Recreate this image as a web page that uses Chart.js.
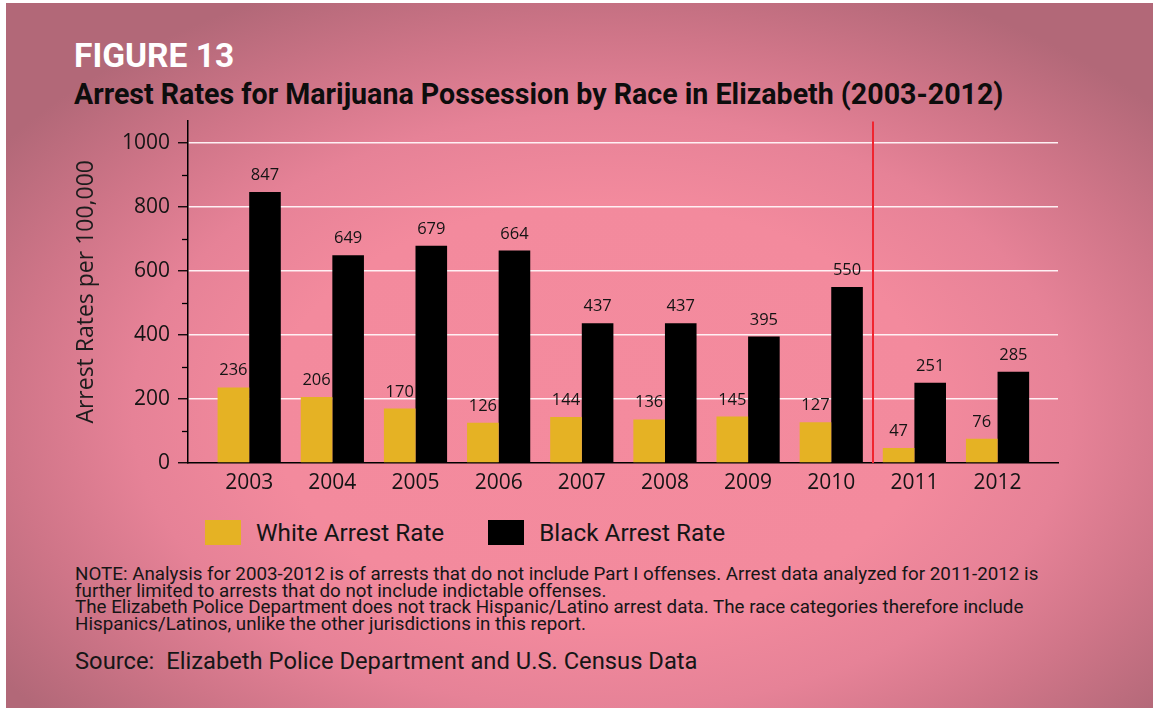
<!DOCTYPE html>
<html>
<head>
<meta charset="utf-8">
<script src="https://cdn.jsdelivr.net/npm/chart.js@4.4.1/dist/chart.umd.min.js"></script>
<style>
  html, body { margin: 0; padding: 0; width: 1153px; height: 708px; overflow: hidden; background: #ffffff; }
  #panel {
    position: absolute; left: 6px; top: 3px; width: 1147px; height: 705px;
    background: radial-gradient(ellipse 64% 66% at 52% 58%, #f48b9e 0%, #f38a9d 45%, #e68297 64%, #cf7588 81%, #b26878 100%);
  }
  .txt { position: absolute; white-space: nowrap; font-family: Roboto, "DejaVu Sans", sans-serif; }
  #fig { left: 74px; top: 39px; font-size: 33.5px; line-height: 33.5px; font-weight: 700; color: #ffffff; }
  #title { left: 74px; top: 80px; font-size: 28.6px; line-height: 28.6px; font-weight: 700; color: #0d0d0d; }
  #chartBox { position: absolute; left: 60px; top: 100px; width: 1010px; height: 403px; }
  #legend { position: absolute; left: 205px; top: 520px; height: 25px; display: flex; align-items: center; }
  .item { display: flex; align-items: center; margin-right: 44px; }
  .swatch { width: 36px; height: 25px; margin-right: 15px; }
  .item span { font-family: Roboto, sans-serif; font-size: 24.3px; color: #151515; }
  #note { left: 75px; top: 566px; font-size: 18.8px; line-height: 16.7px; color: #161616; white-space: pre; }
  #source { left: 75px; top: 650px; font-size: 23.75px; line-height: 23.75px; color: #161616; }
</style>
</head>
<body>
<div id="panel"></div>
<div class="txt" id="fig">FIGURE 13</div>
<div class="txt" id="title">Arrest Rates for Marijuana Possession by Race in Elizabeth (2003-2012)</div>
<div id="chartBox"><canvas id="chart"></canvas></div>
<div id="legend"></div>
<div class="txt" id="note">NOTE: Analysis for 2003-2012 is of arrests that do not include Part I offenses. Arrest data analyzed for 2011-2012 is
further limited to arrests that do not include indictable offenses.
The Elizabeth Police Department does not track Hispanic/Latino arrest data. The race categories therefore include
Hispanics/Latinos, unlike the other jurisdictions in this report.</div>
<div class="txt" id="source">Source:&nbsp; Elizabeth Police Department and U.S. Census Data</div>

<script>
// Arrest rates per 100,000 residents, by year
const years = [2003, 2004, 2005, 2006, 2007, 2008, 2009, 2010, 2011, 2012];
const whiteRate = [236, 206, 170, 126, 144, 136, 145, 127, 47, 76];
const blackRate = [847, 649, 679, 664, 437, 437, 395, 550, 251, 285];
const yTicks = [0, 200, 400, 600, 800, 1000];
const yMinorTicks = [100, 300, 500, 700, 900];
// Methodology change between the 2010 and 2011 data
const dividerAt = 2010.5;

const YELLOW = '#e5b224';
const BLACK = '#000000';
const GRID = 'rgba(255, 244, 247, 0.97)';
const TEXT = '#141414';

// Minor ticks, the divider line and the value labels
const decor = {
  id: 'decor',
  afterDatasetsDraw(chart) {
    const { ctx, chartArea, scales: { x, y } } = chart;
    ctx.save();
    // red divider between the two reporting periods
    const dx = Math.round(x.getPixelForValue(dividerAt));
    ctx.strokeStyle = '#f0242f';
    ctx.lineWidth = 2;
    ctx.beginPath();
    ctx.moveTo(dx, chartArea.top + 1);
    ctx.lineTo(dx, chartArea.bottom);
    ctx.stroke();

    // short minor ticks on the value axis
    ctx.strokeStyle = '#000';
    ctx.lineWidth = 1.3;
    yMinorTicks.forEach(v => {
      const py = Math.round(y.getPixelForValue(v)) + 0.5;
      ctx.beginPath();
      ctx.moveTo(chartArea.left - 6, py);
      ctx.lineTo(chartArea.left, py);
      ctx.stroke();
    });

    // value labels above each bar
    ctx.font = '16.5px "Open Sans", sans-serif';
    ctx.fillStyle = TEXT;
    ctx.textAlign = 'center';
    ctx.textBaseline = 'alphabetic';
    chart.data.datasets.forEach((ds, di) => {
      const meta = chart.getDatasetMeta(di);
      meta.data.forEach((bar, i) => {
        ctx.fillText(String(ds.data[i].y), bar.x, bar.y - 12);
      });
    });
    ctx.restore();
  }
};

const chart = new Chart(document.getElementById('chart'), {
  type: 'bar',
  data: {
    datasets: [
      {
        label: 'White Arrest Rate',
        data: years.map((yr, i) => ({ x: yr, y: whiteRate[i] })),
        backgroundColor: YELLOW,
        categoryPercentage: 0.76,
        barPercentage: 1.0
      },
      {
        label: 'Black Arrest Rate',
        data: years.map((yr, i) => ({ x: yr, y: blackRate[i] })),
        backgroundColor: BLACK,
        categoryPercentage: 0.76,
        barPercentage: 1.0
      }
    ]
  },
  options: {
    responsive: true,
    maintainAspectRatio: false,
    animation: false,
    layout: { padding: { top: 17, left: 0, right: 12, bottom: 0 } },
    plugins: { legend: { display: false }, tooltip: { enabled: false } },
    scales: {
      x: {
        type: 'linear',
        offset: false,
        min: years[0] - 0.736,
        max: years[years.length - 1] + 0.727,
        grid: { display: false, drawTicks: false, offset: false },
        border: { display: true, color: '#000', width: 1.5 },
        ticks: {
          font: { family: 'Open Sans', size: 21 },
          color: TEXT,
          padding: 7,
          maxRotation: 0,
          autoSkip: false,
          callback: v => String(v)
        },
        afterBuildTicks: s => { s.ticks = years.map(v => ({ value: v })); },
        afterFit: s => { s.height = 40; }
      },
      y: {
        min: 0,
        max: 1070,
        afterBuildTicks: s => { s.ticks = yTicks.map(v => ({ value: v })); },
        grid: {
          color: c => (c.tick && c.tick.value === 0 ? 'rgba(0,0,0,0)' : GRID),
          lineWidth: 1.5,
          tickColor: '#000',
          tickLength: 10,
          tickWidth: 1.3
        },
        border: { color: '#000', width: 1.5 },
        ticks: {
          font: { family: 'Open Sans', size: 21 },
          color: TEXT,
          padding: 8,
          callback: v => String(v)
        },
        title: {
          display: true,
          text: 'Arrest Rates per 100,000',
          font: { family: 'Open Sans', size: 23 },
          color: '#1c1c1c',
          padding: { top: 13, bottom: 0 }
        },
        afterFit: s => { s.width = 128; }
      }
    }
  },
  plugins: [decor]
});

// Legend built from the dataset labels and colours
const legend = document.getElementById('legend');
chart.data.datasets.forEach(ds => {
  const item = document.createElement('div');
  item.className = 'item';
  const sw = document.createElement('div');
  sw.className = 'swatch';
  sw.style.background = ds.backgroundColor;
  const label = document.createElement('span');
  label.textContent = ds.label;
  item.appendChild(sw);
  item.appendChild(label);
  legend.appendChild(item);
});
</script>
</body>
</html>
